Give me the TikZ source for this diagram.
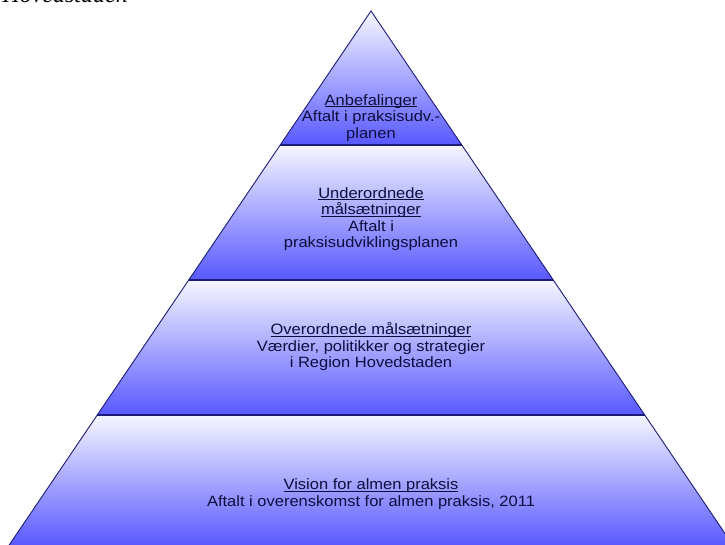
\documentclass[tikz,border=0pt]{standalone}
\usepackage{fontspec}
\setmainfont[FakeStretch=1.1]{Liberation Sans}
\newfontfamily\headfont{Liberation Serif}
\definecolor{pyrtop}{RGB}{246,246,255}
\definecolor{pyrbot}{RGB}{88,88,255}
\definecolor{pyrline}{RGB}{28,28,120}
\definecolor{pyrtext}{RGB}{14,14,60}
\newcommand\myul[1]{\setbox0\hbox{#1}\rlap{\rule[-1.8pt]{\wd0}{0.8pt}}\box0}
\tikzset{
  tierfill/.style={top color=pyrtop, bottom color=pyrbot},
  tierline/.style={draw=pyrline, line width=1.3pt},
  sideline/.style={draw=pyrline, line width=0.9pt},
  tiertext/.style={align=center, text=pyrtext, font=\fontsize{15}{16.5}\selectfont, inner sep=0pt},
}
\begin{document}
\begin{tikzpicture}[x=1pt,y=1pt]
\useasboundingbox (0,0) rectangle (725,545);
\coordinate (apex) at (371,534);
\coordinate (l1) at (280.1,400); \coordinate (r1) at (461.9,400);
\coordinate (l2) at (188.6,265); \coordinate (r2) at (553.4,265);
\coordinate (l3) at (97.1,130);  \coordinate (r3) at (644.9,130);
\coordinate (l4) at (8.5,-1);    \coordinate (r4) at (733.5,-1);
% tiers
\shade[tierfill] (apex) -- (r1) -- (l1) -- cycle;
\shade[tierfill] (l1) -- (r1) -- (r2) -- (l2) -- cycle;
\shade[tierfill] (l2) -- (r2) -- (r3) -- (l3) -- cycle;
\shade[tierfill] (l3) -- (r3) -- (r4) -- (l4) -- cycle;
% outline
\draw[sideline] (l4) -- (apex) -- (r4);
\draw[tierline] (l1) -- (r1);
\draw[tierline] (l2) -- (r2);
\draw[tierline] (l3) -- (r3);
% texts
\node[tiertext] (t1) at (371,427) {\myul{Anbefalinger}\\Aftalt i praksisudv.-\\planen};
\node[tiertext] (t2) at (371,326) {\myul{Underordnede}\\\myul{målsætninger}\\Aftalt i\\praksisudviklingsplanen};
\node[tiertext] (t3) at (371,198) {\myul{Overordnede målsætninger}\\Værdier, politikker og strategier\\i Region Hovedstaden};
\node[tiertext] (t4) at (371,51) {\myul{Vision for almen praksis}\\Aftalt i overenskomst for almen praksis, 2011};
% cut heading
\node[anchor=base east, inner sep=0pt, font=\headfont\itshape\fontsize{24}{28}\selectfont] (hd) at (128,542) {Hovedstaden};
\end{tikzpicture}
\end{document}
